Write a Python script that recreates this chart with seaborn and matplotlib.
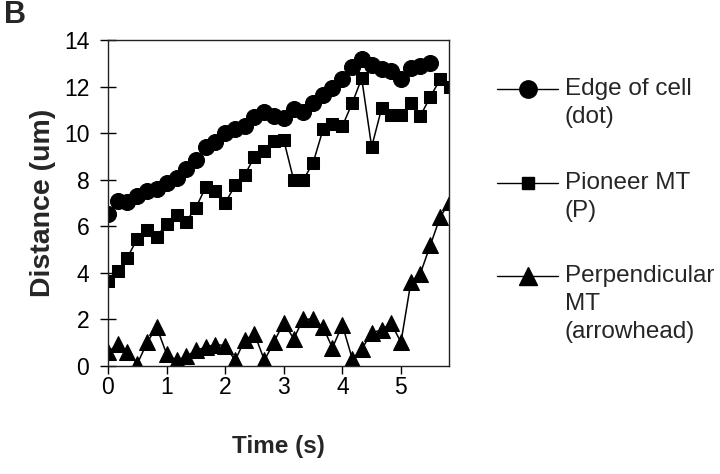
import matplotlib
matplotlib.use("Agg")
import matplotlib.pyplot as plt
from matplotlib.lines import Line2D
import seaborn as sns
import pandas as pd

# ---- data ----
time = [0.00, 0.17, 0.33, 0.50, 0.67, 0.83, 1.00, 1.17, 1.33, 1.50, 1.67, 1.83,
        2.00, 2.17, 2.33, 2.50, 2.67, 2.83, 3.00, 3.17, 3.33, 3.50, 3.67, 3.83,
        4.00, 4.17, 4.33, 4.50, 4.67, 4.83, 5.00, 5.17, 5.33, 5.50, 5.67, 5.83]

edge_of_cell = [6.52, 7.09, 7.05, 7.29, 7.52, 7.62, 7.84, 8.09, 8.47, 8.84,
                9.41, 9.63, 10.01, 10.16, 10.30, 10.70, 10.92, 10.75, 10.63, 11.02,
                10.92, 11.30, 11.63, 11.92, 12.31, 12.85, 13.17, 12.92, 12.74, 12.68,
                12.31, 12.78, 12.88, 13.02]

pioneer_mt = [3.65, 4.08, 4.65, 5.47, 5.83, 5.54, 6.11, 6.47, 6.19, 6.80,
              7.69, 7.52, 7.00, 7.76, 8.19, 8.98, 9.24, 9.67, 9.70, 7.98,
              7.98, 8.72, 10.16, 10.39, 10.30, 11.30, 12.35, 9.41, 11.06, 10.77,
              10.77, 11.28, 10.73, 11.56, 12.31, 11.99]

perpendicular_mt = [0.59, 0.95, 0.59, 0.09, 1.02, 1.67, 0.52, 0.24, 0.41, 0.67,
                    0.81, 0.92, 0.88, 0.24, 1.10, 1.38, 0.24, 1.02, 1.86, 1.17,
                    2.01, 2.01, 1.67, 0.78, 1.76, 0.30, 0.72, 1.43, 1.55, 1.84,
                    1.02, 3.61, 3.96, 5.18, 6.40, 7.05]

x_ticks = [0, 1, 2, 3, 4, 5]
y_ticks = [0, 2, 4, 6, 8, 10, 12, 14]

legend_labels = [["Edge of cell", "(dot)"],
                 ["Pioneer MT", "(P)"],
                 ["Perpendicular", "MT", "(arrowhead)"]]

# ---- style ----
sns.set_style("ticks")
plt.rcParams["font.family"] = ["Liberation Sans", "DejaVu Sans"]

fig = plt.figure(figsize=(7.2, 4.74), dpi=100)
ax = fig.add_axes([108 / 720, 1 - 366 / 474, 341 / 720, 326 / 474])

df_edge = pd.DataFrame({"Time": time[:len(edge_of_cell)], "Distance": edge_of_cell})
df_pio = pd.DataFrame({"Time": time[:len(pioneer_mt)], "Distance": pioneer_mt})
df_perp = pd.DataFrame({"Time": time[:len(perpendicular_mt)], "Distance": perpendicular_mt})

common = dict(x="Time", y="Distance", color="black", linewidth=1.1,
              markeredgecolor="black", markerfacecolor="black", ax=ax,
              estimator=None, sort=False)
sns.lineplot(data=df_perp, marker="^", markersize=11, **common)
sns.lineplot(data=df_pio, marker="s", markersize=8, **common)
sns.lineplot(data=df_edge, marker="o", markersize=11.5, **common)

ax.set_xlim(0, 5.82)
ax.set_ylim(0, 14)
ax.set_xticks(x_ticks)
ax.set_yticks(y_ticks)
ax.set_xticklabels([str(v) for v in x_ticks], fontsize=16.5)
ax.set_yticklabels([str(v) for v in y_ticks], fontsize=16.5)
ax.tick_params(axis="y", direction="inout", length=11, width=1.0, pad=8, colors="black")
ax.tick_params(axis="x", direction="out", length=6, width=1.0, pad=1, colors="black")

for s in ax.spines.values():
    s.set_visible(True)
    s.set_color("#222222")
    s.set_linewidth(1.0)

ax.set_xlabel("Time (s)", fontsize=17.5, fontweight="bold")
ax.set_ylabel("Distance (um)", fontsize=20.5, fontweight="bold")
ax.xaxis.label.set_va("center")
ax.yaxis.label.set_va("center")
ax.xaxis.set_label_coords(0.5, (366 - 447) / 326)
ax.yaxis.set_label_coords((43 - 108) / 341, 0.5)

fig.text(4 / 720, 1 - 15 / 474, "B", fontsize=22, fontweight="bold",
         ha="left", va="center")

# ---- legend (drawn at the right) ----
entry_y = [89, 183, 276]
markers = [("o", 12.5), ("s", 8.5), ("^", 13.5)]
for (lbls, y, (mk, ms)) in zip(legend_labels, entry_y, markers):
    yf = 1 - y / 474
    fig.add_artist(Line2D([497 / 720, 558 / 720], [yf, yf], transform=fig.transFigure,
                          color="black", linewidth=1.0))
    fig.add_artist(Line2D([527.5 / 720], [yf], transform=fig.transFigure,
                          marker=mk, markersize=ms, color="black", linestyle="none"))
    for k, line in enumerate(lbls):
        fig.text(565 / 720, 1 - (y + 28 * k) / 474, line, fontsize=17.5,
                 ha="left", va="center")

fig.savefig("out.png", dpi=100, facecolor="white")
